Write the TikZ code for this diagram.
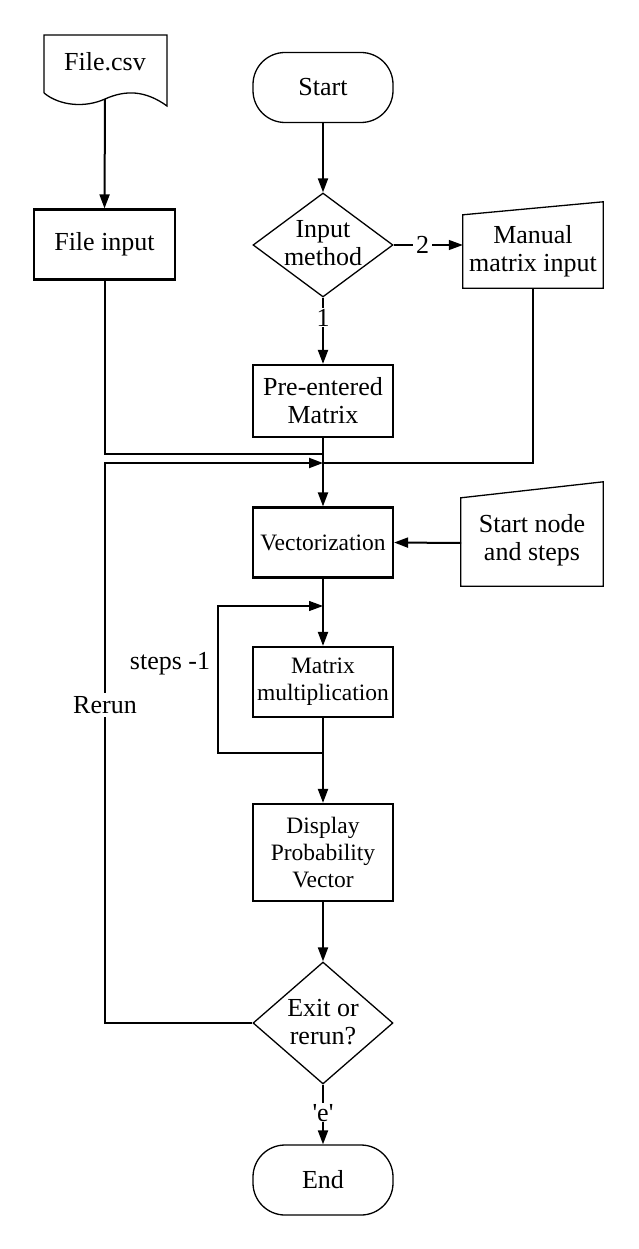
\documentclass[tikz,border=0pt]{standalone}
\usepackage{fontspec}
\setmainfont{Liberation Serif}
\usetikzlibrary{arrows.meta,shapes.geometric,calc}
\begin{document}
\begin{tikzpicture}[x=1pt,y=-1pt,
  big/.style={font=\fontsize{26}{28}\selectfont},
  small/.style={font=\fontsize{23.5}{27}\selectfont},
  proc/.style={draw,line width=2.2pt,minimum width=140pt,minimum height=70pt,inner sep=0pt,align=center},
  term/.style={draw,line width=1.3pt,rounded corners=32pt,minimum width=140pt,minimum height=70pt,inner sep=0pt,align=center,big},
  dia/.style={draw,diamond,line width=1.3pt,minimum width=140pt,inner sep=0pt},
  shp/.style={line width=1.3pt},
  conn/.style={line width=2pt},
  thinc/.style={line width=1.2pt},
  arr/.style={-{Triangle[length=14pt,width=10pt]}},
  lbl/.style={fill=white,inner sep=3pt,big}]

\useasboundingbox (0,0) rectangle (638,1249);

% File.csv document
\draw[shp] (44,93) -- (44,35) -- (167,35) -- (167,106)
  .. controls (145,90) and (125,90) .. (105,99)
  .. controls (85,108) and (60,106) .. (44,93);
\node[big] (csv) at (105,62) {File.csv};
\coordinate (csvb) at (105,99);

% File input
\node[proc,big,minimum width=141pt] (fin) at (104.5,244.5) {File input};

% Start
\node[term] (start) at (323,87.5) {Start};

% Input method diamond
\node[dia,minimum height=104pt] (im) at (323,245) {};
\node[big,align=center] (imt) at (323,243) {Input\\method};

% Manual matrix input
\node[minimum width=140pt,minimum height=86pt,inner sep=0pt] (mmi) at (533,245) {};
\draw[shp] (mmi.south west) -- (mmi.south east) -- (mmi.north east) -- ([yshift=-13pt]mmi.north west) -- cycle;
\node[big,align=center] (mmit) at (533,251) {Manual\\matrix input};

% Pre-entered matrix
\node[proc,big,minimum height=72pt] (pre) at (323,401) {Pre-entered\\Matrix};

% Vectorization
\node[proc,small] (vec) at (323,542.5) {Vectorization};

% Start node and steps
\node[minimum width=142pt,minimum height=104pt,inner sep=0pt] (sn) at (532,534) {};
\draw[shp] (sn.south west) -- (sn.south east) -- (sn.north east) -- ([yshift=-16pt]sn.north west) -- cycle;
\node[big,align=center] (snt) at (532,540) {Start node\\and steps};
\coordinate (snw) at (461,543);

% Matrix multiplication
\node[proc,small] (mm) at (323,682) {Matrix\\multiplication};

% Display
\node[proc,small,minimum height=97pt] (disp) at (323,852.5) {Display\\Probability\\Vector};

% Exit diamond
\node[dia,minimum height=122pt] (ex) at (323,1023) {};
\node[big,align=center] (ext) at (323,1022) {Exit or\\rerun?};

% End
\node[term] (end) at (323,1180) {End};

% junctions
\coordinate (j1) at (323,454);
\coordinate (j2) at (323,463);
\coordinate (rc) at (105,1023);
\coordinate (rt) at (105,463);
\coordinate (l1) at (323,753);
\coordinate (l2) at (323,606);
\coordinate (lb) at (218,753);
\coordinate (lt) at (218,606);

% connectors
\draw[conn,arr] (csvb) -- (fin.north);
\draw[conn,arr] (start.south) -- (im.north);
\draw[thinc,arr] (im.east) -- node[lbl,pos=0.42]{2} (mmi.west);
\draw[conn,arr] (im.south) -- node[lbl,pos=0.3,inner sep=1pt]{1} (pre.north);
\draw[conn] (fin.south) |- (j1);
\draw[thinc] (mmi.south) |- (j2);
\draw[conn,arr] (pre.south) -- (vec.north);
\draw[conn,arr] (ex.west) -- (rc) -- node[lbl,pos=0.568]{Rerun} (rt) -- (j2);
\draw[conn,arr] (snw) -- (vec.east);
\draw[conn,arr] (vec.south) -- (mm.north);
\draw[thinc,arr] (l1) -- (lb) -- (lt) -- (l2);
\node[big] (steps) at (170,664) {steps -1};
\draw[conn,arr] (mm.south) -- (disp.north);
\draw[conn,arr] (disp.south) -- (ex.north);
\draw[conn,arr] (ex.south) -- node[lbl,pos=0.47,inner sep=1pt]{\textquotesingle e\textquotesingle} (end.north);
\end{tikzpicture}
\end{document}
